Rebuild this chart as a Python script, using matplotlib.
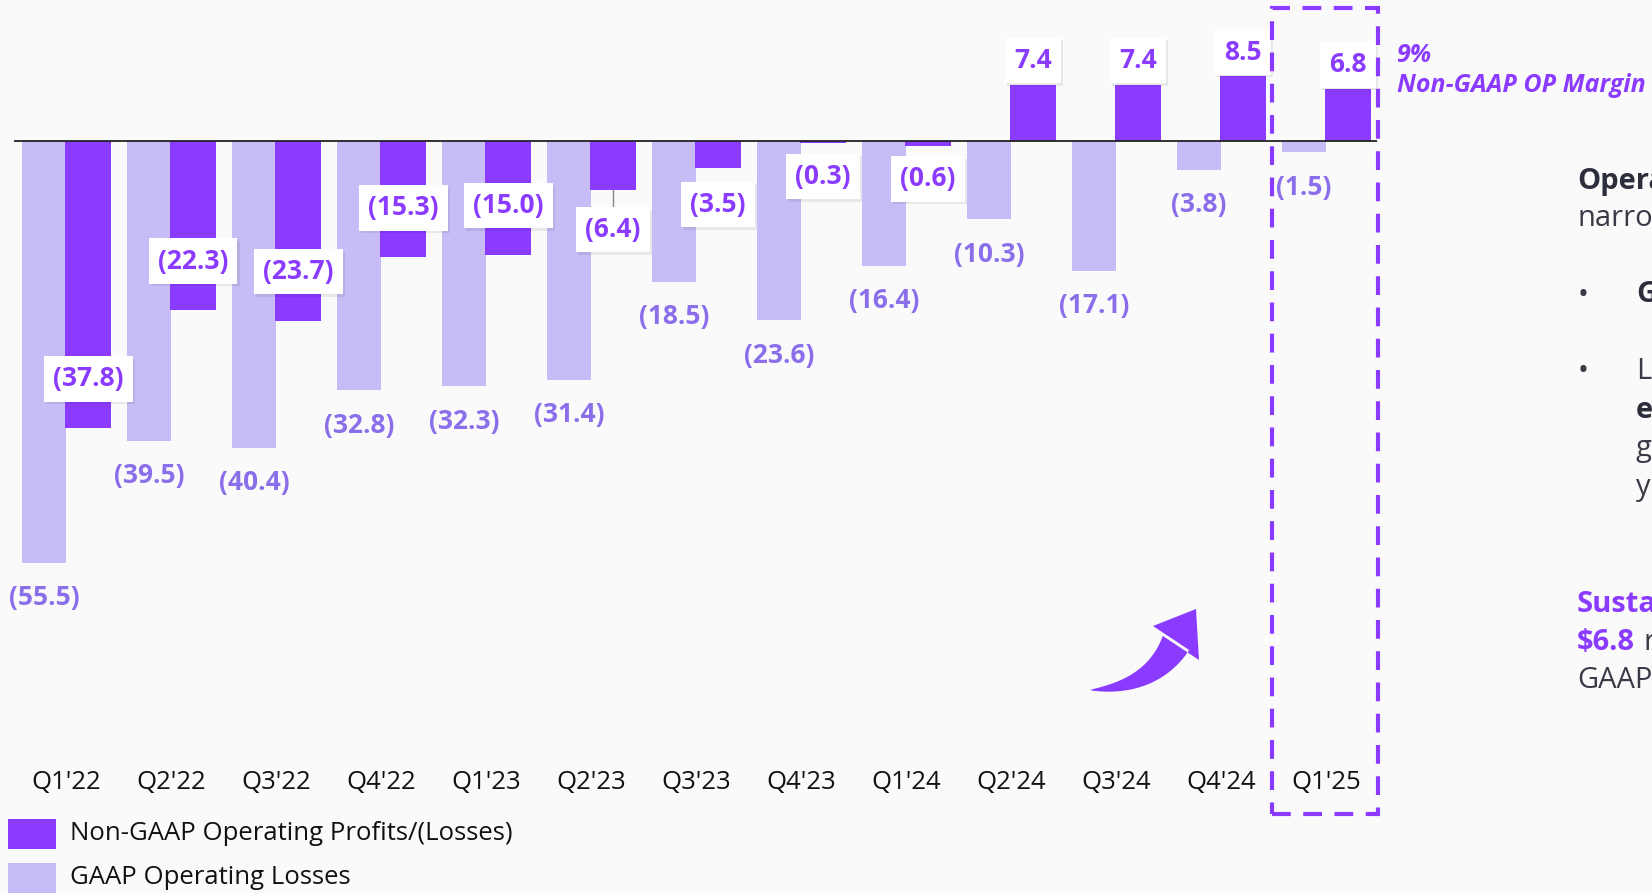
import numpy as np
import matplotlib.pyplot as plt
from matplotlib.patches import Rectangle, Polygon

# quarterly operating results ($M)
quarters = ["Q1'22", "Q2'22", "Q3'22", "Q4'22", "Q1'23", "Q2'23", "Q3'23",
            "Q4'23", "Q1'24", "Q2'24", "Q3'24", "Q4'24", "Q1'25"]
gaap_losses = [-55.5, -39.5, -40.4, -32.8, -32.3, -31.4, -18.5,
               -23.6, -16.4, -10.3, -17.1, -3.8, -1.5]
non_gaap = [-37.8, -22.3, -23.7, -15.3, -15.0, -6.4, -3.5,
            -0.3, -0.6, 7.4, 7.4, 8.5, 6.8]
legend_labels = ["Non-GAAP Operating Profits/(Losses)", "GAAP Operating Losses"]

PURPLE = '#8A3BFF'
LAVENDER = '#C8BCF6'
GAAP_TXT = '#8B6FEA'
DARK = '#2C2E3B'
BG = '#FAFAFA'
FONT = 'Open Sans'
LBL = 19

W, H = 1652, 893
fig = plt.figure(figsize=(W / 100, H / 100), dpi=100, facecolor=BG)


def fpos(px, py):
    # pixel coords (top-left origin) -> figure fraction
    return px / W, 1 - py / H


# axes covers the figure from the top down to the tick labels
ax_bottom_px = 760
ax = fig.add_axes([0, (H - ax_bottom_px) / H, 1, ax_bottom_px / H])
ax.set_facecolor('none')
step, x0, zero_y, ppu = 105.0, 66.0, 141.0, 7.6
ax.set_xlim(-x0 / step, (W - x0) / step)
ax.set_ylim((zero_y - ax_bottom_px) / ppu, zero_y / ppu)
for s in ax.spines.values():
    s.set_visible(False)

x = np.arange(len(quarters))
bw = 0.42
ax.bar(x - bw / 2, gaap_losses, width=bw, color=LAVENDER, zorder=2)
ax.bar(x + bw / 2, non_gaap, width=bw + 0.01, color=PURPLE, zorder=2)
ax.hlines(0, x[0] - 0.495, x[-1] + 0.49, color='#222222', lw=1.3, zorder=3)

ax.set_xticks(x)
ax.set_xticklabels(quarters, fontsize=18.5, family=FONT, color='#111111')
ax.tick_params(axis='x', length=0, pad=7)
ax.set_yticks([])

# GAAP labels below bars
for i, v in enumerate(gaap_losses):
    ax.annotate(f"({abs(v):.1f})", (x[i] - bw / 2, v), xytext=(0, -25),
                textcoords='offset points', ha='center', va='center',
                fontsize=LBL, fontweight='bold', family=FONT, color=GAAP_TXT, zorder=5)

# Non-GAAP labels in white boxes
for i, v in enumerate(non_gaap):
    xc = x[i] + bw / 2
    if v > 0:
        yl = v + 3.2
    elif v <= -10:
        yl = v + 6.5
    else:
        yl = v * 1.15 - 4.3
    if -10 < v < -5:
        ax.plot([xc, xc], [v, yl], color='#888888', lw=1, zorder=3)
    txt = f"{v:.1f}" if v > 0 else f"({abs(v):.1f})"
    # soft shadow
    ax.text(xc + 0.02, yl - 0.35, txt, ha='center', va='center', fontsize=LBL,
            fontweight='bold', family=FONT, color=(0, 0, 0, 0), zorder=4,
            bbox=dict(boxstyle='square,pad=0.35', fc=(0, 0, 0, 0.07), ec='none'))
    ax.text(xc, yl, txt, ha='center', va='center', fontsize=LBL,
            fontweight='bold', family=FONT, color=PURPLE, zorder=5,
            bbox=dict(boxstyle='square,pad=0.35', fc='white', ec='none'))

# dashed highlight around latest quarter
top_v = (zero_y - 8) / ppu
bot_v = (zero_y - 814) / ppu
ax.add_patch(Rectangle((x[-1] - 0.514, bot_v), 1.01, top_v - bot_v, fill=False,
                       ec=PURPLE, lw=3, ls=(0, (4.5, 3)), clip_on=False, zorder=6))

# curved tapered arrow (pixel space)
P0, C, P1 = np.array([1090, 690]), np.array([1152, 688]), np.array([1176, 643])
t = np.linspace(0, 1, 40)[:, None]
centre = (1 - t) ** 2 * P0 + 2 * (1 - t) * t * C + t ** 2 * P1
tang = 2 * (1 - t) * (C - P0) + 2 * t * (P1 - C)
tang = tang / np.linalg.norm(tang, axis=1, keepdims=True)
norm = np.column_stack([tang[:, 1], -tang[:, 0]])
half = 15 * t[:, 0] ** 0.8
upper = centre - norm * half[:, None]
lower = centre + norm * half[:, None]
head = np.array([[1153, 626], [1196, 609], [1199, 660]])
pts = np.vstack([upper, head, lower[::-1]])
fig.patches.append(Polygon([fpos(px, py) for px, py in pts], closed=True,
                           transform=fig.transFigure, fc=PURPLE, ec='none'))

# margin callout
fig.text(*fpos(1397, 56), "9%", fontsize=18, fontweight='bold', style='italic',
         family=FONT, color=PURPLE, va='center')
fig.text(*fpos(1397, 85), "Non-GAAP OP Margin", fontsize=18, fontweight='bold',
         style='italic', family=FONT, color=PURPLE, va='center')

# legend
for k, (lab, col) in enumerate(zip(legend_labels, [PURPLE, LAVENDER])):
    yc = 834 + 44 * k
    fig.patches.append(Rectangle(fpos(8, yc + 15), 48 / W, 30 / H,
                                 transform=fig.transFigure, fc=col, ec='none'))
    fig.text(*fpos(70, yc), lab, fontsize=18.5, family=FONT, color='#111111', va='center')


# commentary panel (cut off at the right edge)
def side(px, py, s, bold=False, color='#3A3B47'):
    fig.text(*fpos(px, py), s, fontsize=21, family=FONT, va='center',
             fontweight='bold' if bold else 'normal', color=color)


side(1577, 181, "Opera", bold=True, color=DARK)
side(1577, 219, "narro")
side(1578, 295, "•")
side(1636, 295, "G", bold=True, color=DARK)
side(1578, 371, "•")
side(1636, 371, "L")
side(1636, 411, "e", bold=True, color=DARK)
side(1636, 449, "g")
side(1636, 487, "y")
side(1577, 604, "Susta", bold=True, color=PURPLE)
side(1577, 642, "$6.8", bold=True, color=PURPLE)
side(1643, 642, "r")
side(1577, 680, "GAAP")

fig.savefig('out.png', dpi=100, facecolor=BG)
